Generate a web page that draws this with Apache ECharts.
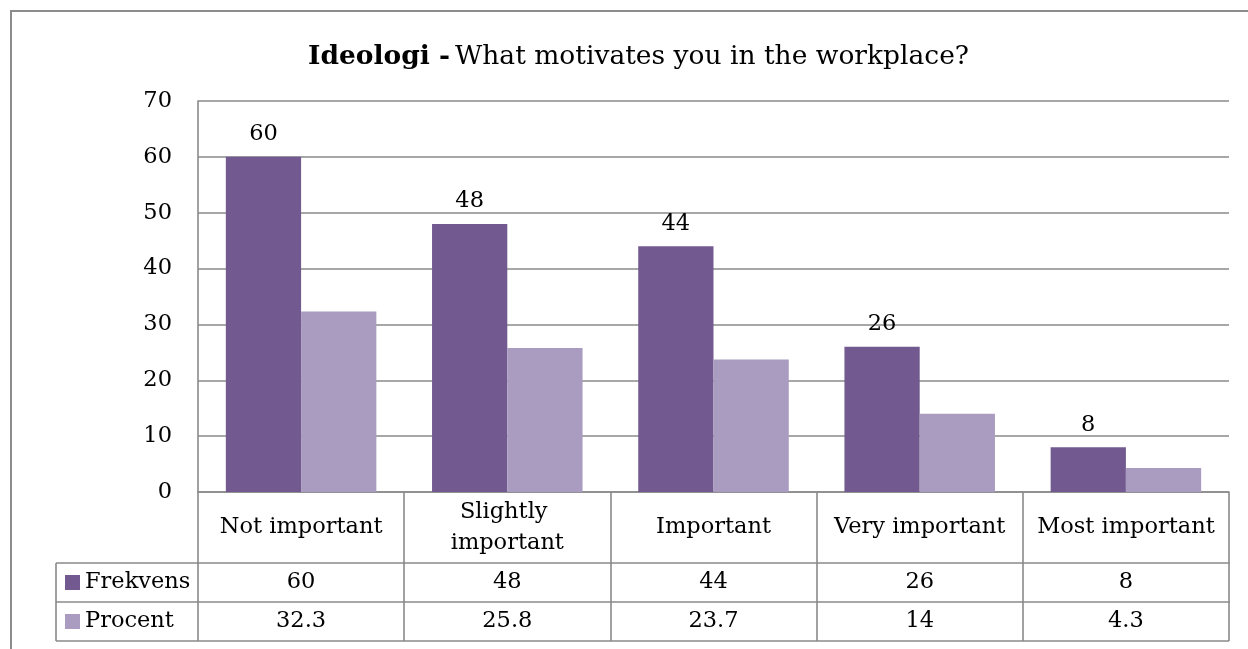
<!DOCTYPE html>
<html>
<head>
<meta charset="utf-8">
<script src="https://cdn.jsdelivr.net/npm/echarts@6/dist/echarts.min.js"></script>
<style>
  html, body { margin: 0; padding: 0; background: #fff; }
  #chart { width: 1248px; height: 649px; }
</style>
</head>
<body>
<div id="chart"></div>
<script>
// Survey answers: how much ideology motivates respondents at work
const categories = ['Not important', 'Slightly important', 'Important', 'Very important', 'Most important'];
const frekvens = [60, 48, 44, 26, 8];
const procent = [32.3, 25.8, 23.7, 14, 4.3];
const seriesNames = ['Frekvens', 'Procent'];
const yTicks = { min: 0, max: 70, interval: 10 };

const FONT = 'DejaVu Serif';
const FS = 22.5;
const LINE = '#8a8a8a';
const DARK = '#725a90';
const LIGHT = '#aa9bc0';

const chart = echarts.init(document.getElementById('chart'), null, { renderer: 'canvas' });

const lineStyle = { color: LINE, width: 1.6 };

// One bottom axis per data-table row; the axis line and boundary ticks form the table grid
function tableAxis(data, offset, rowHeight) {
  return {
    type: 'category',
    gridIndex: 0,
    position: 'bottom',
    offset: offset,
    data: data,
    boundaryGap: true,
    axisLine: { show: true, lineStyle: lineStyle },
    axisTick: { show: true, length: rowHeight, lineStyle: lineStyle },
    axisLabel: {
      interval: 0,
      margin: rowHeight / 2,
      verticalAlign: 'middle',
      fontFamily: FONT,
      fontSize: FS,
      color: '#000',
      width: 184,
      overflow: 'break',
      lineHeight: 31,
      align: 'center'
    },
    splitLine: { show: false }
  };
}

function rowLegend(name, top) {
  return {
    data: [name],
    left: 65, top: top, padding: 0,
    icon: 'rect', itemWidth: 15, itemHeight: 15, itemGap: 6,
    textStyle: { fontFamily: FONT, fontSize: FS, color: '#000' },
    selectedMode: false
  };
}

const option = {
  backgroundColor: '#fff',
  animation: false,
  title: {
    left: 303,
    top: 39,
    text: '{b|Ideologi -} {n|What motivates you in the workplace?}',
    textStyle: {
      rich: {
        b: { fontFamily: FONT, fontSize: 26.5, fontWeight: 'bold', color: '#000' },
        n: { fontFamily: FONT, fontSize: 26.5, fontWeight: 'normal', color: '#000' }
      }
    }
  },
  legend: [rowLegend(seriesNames[0], 571), rowLegend(seriesNames[1], 610)],
  grid: { left: 198, right: 19, top: 101, bottom: 157, containLabel: false },
  xAxis: [
    tableAxis(categories, 0, 71),
    tableAxis(frekvens.map(String), 71, 39),
    tableAxis(procent.map(String), 110, 39)
  ],
  yAxis: {
    type: 'value',
    min: yTicks.min, max: yTicks.max, interval: yTicks.interval,
    axisLine: { show: true, lineStyle: lineStyle },
    axisTick: { show: false },
    splitLine: { show: true, lineStyle: lineStyle },
    axisLabel: { fontFamily: FONT, fontSize: FS, color: '#000', margin: 26 }
  },
  series: [
    {
      name: seriesNames[0],
      type: 'bar',
      xAxisIndex: 0,
      data: frekvens,
      itemStyle: { color: DARK },
      barGap: '0%',
      barCategoryGap: '27%',
      label: { show: true, position: 'top', distance: 11, fontFamily: FONT, fontSize: FS, color: '#000' }
    },
    {
      name: seriesNames[1],
      type: 'bar',
      xAxisIndex: 0,
      data: procent,
      itemStyle: { color: LIGHT },
      barGap: '0%',
      barCategoryGap: '27%'
    }
  ],
  graphic: [
    // outer chart frame, open to the right and bottom edges of the page
    { type: 'rect', shape: { x: 11, y: 11, width: 1300, height: 700 },
      style: { fill: null, stroke: '#8c8c8c', lineWidth: 2 }, silent: true },
    // legend column of the data table
    { type: 'line', shape: { x1: 56, y1: 563, x2: 56, y2: 641 }, style: { stroke: LINE, lineWidth: 1.6 } },
    { type: 'line', shape: { x1: 56, y1: 563, x2: 198, y2: 563 }, style: { stroke: LINE, lineWidth: 1.6 } },
    { type: 'line', shape: { x1: 56, y1: 602, x2: 198, y2: 602 }, style: { stroke: LINE, lineWidth: 1.6 } },
    { type: 'line', shape: { x1: 56, y1: 641, x2: 1229, y2: 641 }, style: { stroke: LINE, lineWidth: 1.6 } }
  ]
};

chart.setOption(option);
</script>
</body>
</html>
